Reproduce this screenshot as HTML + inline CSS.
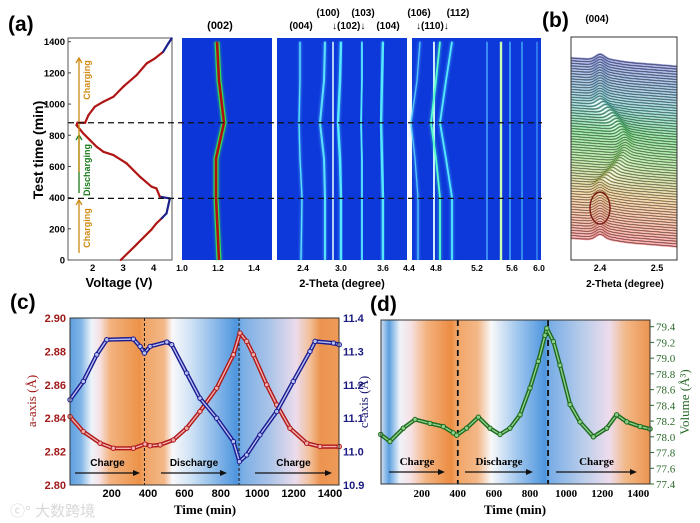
<!DOCTYPE html>
<html><head><meta charset="utf-8">
<style>
html,body{margin:0;padding:0;background:#fff;}
svg{display:block;}
.b{font-family:"Liberation Sans",Arial,sans-serif;font-weight:bold;}
.s{font-family:"Liberation Serif","Times New Roman",serif;font-weight:bold;}
</style></head>
<body>
<svg id="fig" width="700" height="523" viewBox="0 0 700 523" xmlns="http://www.w3.org/2000/svg">
<defs>
<linearGradient id="bgc" x1="0" x2="1" y1="0" y2="0">
<stop offset="0" stop-color="#5d9fdf"/><stop offset=".04" stop-color="#7fb4e6"/><stop offset=".08" stop-color="#eef3fa"/><stop offset=".11" stop-color="#f6e2e4"/><stop offset=".15" stop-color="#f3b27e"/><stop offset=".26" stop-color="#ec9248"/><stop offset=".275" stop-color="#f0a466"/><stop offset=".35" stop-color="#f3b888"/><stop offset=".38" stop-color="#f8f8fa"/><stop offset=".45" stop-color="#cfe2f5"/><stop offset=".62" stop-color="#4e95de"/><stop offset=".64" stop-color="#7aaee6"/><stop offset=".74" stop-color="#a9c3e8"/><stop offset=".84" stop-color="#ecdcec"/><stop offset=".89" stop-color="#f2c09c"/><stop offset=".93" stop-color="#ec9450"/><stop offset="1" stop-color="#ee9a58"/>
</linearGradient>
<linearGradient id="bgd" x1="0" x2="1" y1="0" y2="0">
<stop offset="0" stop-color="#cfe0f3"/><stop offset=".03" stop-color="#5d9fdf"/><stop offset=".07" stop-color="#eef3fa"/><stop offset=".11" stop-color="#f6e2e4"/><stop offset=".17" stop-color="#f3b27e"/><stop offset=".26" stop-color="#ec8c42"/><stop offset=".28" stop-color="#f0a466"/><stop offset=".36" stop-color="#f3b888"/><stop offset=".41" stop-color="#f8f8fa"/><stop offset=".5" stop-color="#a7cbef"/><stop offset=".61" stop-color="#4e95de"/><stop offset=".63" stop-color="#7aaee6"/><stop offset=".75" stop-color="#b9cdea"/><stop offset=".85" stop-color="#eedcec"/><stop offset=".91" stop-color="#f2b888"/><stop offset="1" stop-color="#ec9450"/>
</linearGradient>
<filter id="glow" x="-50%" y="-5%" width="200%" height="110%"><feGaussianBlur stdDeviation="1.2"/></filter>
<clipPath id="clipb"><rect x="571" y="37" width="106" height="223"/></clipPath>
</defs>

<text class="b" x="8" y="31" font-size="21">(a)</text>
<text class="b" x="542" y="27" font-size="21">(b)</text>
<text class="b" x="10" y="309" font-size="21">(c)</text>
<text class="b" x="370" y="311" font-size="21">(d)</text>

<g id="pa">
<rect x="68" y="38" width="104" height="222" fill="#fff" stroke="#555" stroke-width="1"/>
<text class="b" font-size="14" transform="translate(43,150) rotate(-90)" text-anchor="middle">Test time (min)</text>
<text class="b" font-size="13" x="119" y="287" text-anchor="middle">Voltage (V)</text>
</g>

<g id="hm">
<rect x="182" y="38" width="90" height="222" fill="#0d36d8"/>
<rect x="277" y="38" width="130" height="222" fill="#0d38da"/>
<rect x="412" y="38" width="129" height="222" fill="#0d38da"/>
<text class="b" font-size="11" x="220" y="29" text-anchor="middle">(002)</text>
<text class="b" font-size="10" x="301" y="29" text-anchor="middle">(004)</text>
<text class="b" font-size="10" x="328" y="16" text-anchor="middle">(100)</text>
<text class="b" font-size="10" x="363" y="16" text-anchor="middle">(103)</text>
<text class="b" font-size="10" x="388" y="29" text-anchor="middle">(104)</text>
<text class="b" font-size="10" x="419" y="16" text-anchor="middle">(106)</text>
<text class="b" font-size="10" x="458" y="16" text-anchor="middle">(112)</text>
<text class="b" font-size="10" x="332" y="29">↓(102)↓</text>
<text class="b" font-size="10" x="416" y="29">↓(110)↓</text>
<text class="b" font-size="11" x="342" y="287" text-anchor="middle">2-Theta (degree)</text>
</g>

<g id="pb">
<rect x="571" y="37" width="106" height="223" fill="#fff"/>
<text class="b" font-size="10" x="597" y="22" text-anchor="middle">(004)</text>
<text class="b" font-size="10" x="625" y="287" text-anchor="middle">2-Theta (degree)</text>
<g id="pbl" clip-path="url(#clipb)"></g>
</g>

<g id="pc">
<rect x="70" y="318" width="269" height="167" fill="url(#bgc)"/>
<text class="s" font-size="13" fill="#a01818" transform="translate(36,401) rotate(-90)" text-anchor="middle" style="font-weight:normal">a-axis (Å)</text>
<text class="s" font-size="13" x="205" y="514" text-anchor="middle">Time (min)</text>
</g>

<g id="pd">
<rect x="381" y="320" width="269" height="164" fill="url(#bgd)"/>
<text class="s" font-size="13" fill="#1a1a70" transform="translate(368,402) rotate(-90)" text-anchor="middle" style="font-weight:normal">c-axis (Å)</text>
<text class="s" font-size="13" fill="#2a6a2a" transform="translate(689,402) rotate(-90)" text-anchor="middle" style="font-weight:normal">Volume (Å³)</text>
<text class="s" font-size="13" x="515" y="514" text-anchor="middle">Time (min)</text>
</g>

<text x="10" y="516" font-size="15" fill="#d8d8d8" font-family="'Liberation Sans','Noto Sans CJK SC',sans-serif">ⓒ° 大数跨境</text>
</svg>

<script>
// panel a: voltage profile
const voltTime = [0,100,196,235,267,299,395,406,459,470,534,620,673,694,726,769,812,865,880,880,929,983,1015,1047,1111,1186,1261,1293,1335,1389,1421];
const voltValue = [2.92,3.44,3.93,4.09,4.26,4.42,4.53,4.2,4.09,3.93,3.55,3.11,2.68,2.35,2.13,1.91,1.69,1.47,1.5,1.75,1.86,2.07,2.35,2.68,3.0,3.44,3.77,4.04,4.31,4.48,4.59];
const voltTicks = [0,200,400,600,800,1000,1200,1400];
const voltXTicks = [2,3,4];
// panel c
const aTime = [-29,44,136,209,319,383,411,466,539,612,685,777,869,905,942,979,1052,1107,1180,1272,1345,1451];
const aValue = [2.841,2.832,2.825,2.822,2.822,2.8245,2.8235,2.824,2.827,2.834,2.844,2.858,2.878,2.891,2.886,2.878,2.86,2.848,2.834,2.825,2.823,2.823];
const cTime = [-29,44,118,173,319,356,380,411,503,530,612,685,777,869,902,942,1015,1107,1198,1290,1318,1419,1451];
const cValue = [11.155,11.21,11.29,11.335,11.337,11.315,11.295,11.315,11.328,11.32,11.235,11.16,11.10,11.03,10.97,10.99,11.05,11.12,11.21,11.30,11.33,11.325,11.32];
const aTicks = [2.80,2.82,2.84,2.86,2.88,2.90];
const cTicks = [10.9,11.0,11.1,11.2,11.3,11.4];
const timeTicks = [200,400,600,800,1000,1200,1400];
// panel d
const vTime = [-27,24,98,163,246,320,375,394,449,514,578,634,689,745,800,846,883,893,930,966,1022,1077,1151,1225,1280,1336,1410,1465];
const vValue = [78.03,77.94,78.11,78.22,78.17,78.13,78.05,78.02,78.11,78.25,78.11,78.03,78.11,78.28,78.62,78.96,79.29,79.38,79.21,78.91,78.41,78.19,78.0,78.11,78.28,78.19,78.13,78.1];
const volTicks = [77.4,77.6,77.8,78.0,78.2,78.4,78.6,78.8,79.0,79.2,79.4];
const switchTimes = [880,395];

const NS='http://www.w3.org/2000/svg';
const svg=document.getElementById('fig');
function mk(tag,attrs,parent){const e=document.createElementNS(NS,tag);for(const k in attrs)e.setAttribute(k,attrs[k]);(parent||svg).appendChild(e);return e;}
function txt(s,attrs,parent){const e=mk('text',attrs,parent);e.textContent=s;return e;}

// panel a
const vx=v=>92.7+(v-2)*30.5, ty=t=>260-t*0.15593;
const pa=document.getElementById('pa');
for(let i=1;i<voltTime.length;i++){
  const blue=voltValue[i]>4.15&&voltValue[i-1]>4.15;
  const seg=mk('line',{x1:vx(voltValue[i-1]),y1:ty(voltTime[i-1]),x2:vx(voltValue[i]),y2:ty(voltTime[i]),stroke:blue?'#1a1f8a':'#b01515','stroke-width':2.2,'stroke-linecap':'round'},pa);
  
  
}
voltTicks.forEach(t=>{
  const tk=mk('line',{x1:68,x2:71,y1:ty(t),y2:ty(t),stroke:'#444'},pa);
  
  
  const l=txt(String(t),{x:65,y:ty(t)+3.5,'font-size':9.5,'text-anchor':'end',class:'b'},pa);
  
  
});
voltXTicks.forEach(v=>{
  const l=txt(String(v),{x:vx(v),y:271,'font-size':9.5,'text-anchor':'middle',class:'b'},pa);
  
  
});
[[253,200,'#d08a10','Charging',228],[193,135,'#1a7a1a','Discharging',170],[172,58,'#d08a10','Charging',80]].forEach(a=>{
  const ar=mk('line',{x1:79,x2:79,y1:a[0],y2:a[1],stroke:a[2],'stroke-width':1.3},pa);
  
  
  const hd=mk('path',{d:`M76,${a[1]+5} L79,${a[1]} L82,${a[1]+5}`,fill:'none',stroke:a[2],'stroke-width':1.3},pa);
  
  
  const l=txt(a[3],{'font-size':9,fill:a[2],class:'b','text-anchor':'middle',transform:`translate(90,${a[4]}) rotate(-90)`},pa);
  
  
});

// heatmaps
const hm=document.getElementById('hm');
const hmT=[0,400,650,880,1150,1400];
const hmLines=[
 [[219,216,216,224,219,217],5,'#33dd55',2.6,'#b01010'],
 [[301,302,300,299,300,300],1.4,'#5ae0ff',0,null],
 [[325,325,324,320,324,325],2.0,'#5ae0ff',0,null],
 [[333,333,333,333,333,333],1.5,'#e8ffff',0,null],
 [[341,341,340,338,340,341],2.4,'#55e8ff',0,null],
 [[362,362,362,361,362,362],1.8,'#55e8ff',0,null],
 [[383,383,382,381,382,383],2.4,'#55e8ff',0,null],
 [[418,418,415,411,417,420],1.3,'#55c8ff',0,null],
 [[434,434,434,434,434,434],1.8,'#e8ffff',0,null],
 [[440,440,436,431,436,440],1.8,'#55ffcc',0,null],
 [[452,452,446,440,446,452],1.8,'#55e8ff',0,null],
 [[487,487,487,487,487,487],1.3,'#50b8ff',0,null],
 [[501,501,501,501,501,501],2.4,'#c8ffb0',0,null],
 [[510,510,510,510,510,510],1.3,'#50c0ff',0,null],
 [[522,522,522,522,522,522],1.2,'#50c0ff',0,null],
 [[537,537,537,537,537,537],1.1,'#4aa8ff',0,null]];
hmLines.forEach(L=>{
  const d=L[0].map((x,i)=>(i?'L':'M')+x+','+ty(hmT[i])).join(' ');
  const g=mk('path',{d:d,fill:'none',stroke:L[2],'stroke-width':L[1]+1.5,opacity:.45,filter:'url(#glow)'},hm);
  
  
  const p=mk('path',{d:d,fill:'none',stroke:L[2],'stroke-width':L[1]},hm);
  
  
  if(L[4]){const c=mk('path',{d:d,fill:'none',stroke:L[4],'stroke-width':L[3]},hm);
    
    }
});
[[182,'1.0'],[218,'1.2'],[254,'1.4'],[303,'2.4'],[341,'3.0'],[383,'3.6'],[409,'4.4'],[436,'4.8'],[477,'5.2'],[512,'5.6'],[539,'6.0']].forEach(k=>{
  const l=txt(k[1],{x:k[0],y:271,'font-size':8.5,'text-anchor':'middle',class:'b'},hm);
  
  
});
switchTimes.forEach(t=>{
  const l=mk('line',{x1:68,x2:542,y1:ty(t),y2:ty(t),stroke:'#111','stroke-width':1.3,'stroke-dasharray':'6,4'},svg);
  
  
});

// panel b waterfall
const pb=document.getElementById('pb');
const pbl=document.getElementById('pbl');
const nW=70;
function wColor(f){
  const st=[[0,[230,90,90]],[.25,[220,170,90]],[.45,[120,200,90]],[.6,[60,190,80]],[.75,[70,170,170]],[1,[80,90,190]]];
  for(let i=1;i<st.length;i++)if(f<=st[i][0]){const a=st[i-1],b=st[i],u=(f-a[0])/(b[0]-a[0]);return 'rgb('+a[1].map((c,j)=>Math.round(c+(b[1][j]-c)*u)).join(',')+')';}
  return 'rgb(80,90,190)';
}
for(let i=0;i<nW;i++){
  const f=i/(nW-1), base=238-f*180;
  let pk=600; if(f>0.3&&f<0.85){const u=(f-0.3)/0.55;pk=600+25*Math.sin(Math.PI*Math.min(1,u*1.2));}
  let d='';
  for(let x=571;x<=677;x+=2){const y=base+(x-571)*0.08-5*Math.exp(-Math.pow((x-pk)/6,2))-1.5*Math.exp(-Math.pow((x-pk-8)/14,2));d+=(d?'L':'M')+x+','+y.toFixed(1)+' ';}
  const c=mk('path',{d:d,fill:'none',stroke:wColor(f),'stroke-width':2.2,opacity:.7},pbl);
  
  
  const p=mk('path',{d:d,fill:'none',stroke:'#222','stroke-width':.45},pbl);
  
  
}
const el=mk('ellipse',{cx:600,cy:208,rx:10,ry:16,fill:'none',stroke:'#7a1a10','stroke-width':1.4},pb);


const bf=mk('rect',{x:571,y:37,width:106,height:223,fill:'none',stroke:'#333'},pb);


[[600,'2.4'],[657,'2.5']].forEach(k=>{
  const l=txt(k[1],{x:k[0],y:271,'font-size':9,'text-anchor':'middle',class:'b'},pb);
  
  
});

// panel c
const pc=document.getElementById('pc');
const cxs=t=>111.7+(t-200)*0.1819, ays=a=>318+(2.90-a)*1670, cys=c=>318+(11.4-c)*334;
function series(par,xs,ys,xf,yf,dark,light,name){
  const d=xs.map((t,i)=>(i?'L':'M')+xf(t).toFixed(1)+','+yf(ys[i]).toFixed(1)).join(' ');
  const a=mk('path',{d:d,fill:'none',stroke:dark,'stroke-width':4.2,'stroke-linejoin':'round'},par);
  
  
  const b=mk('path',{d:d,fill:'none',stroke:light,'stroke-width':1.4,'stroke-linejoin':'round'},par);
  
  
  xs.forEach((t,i)=>{const m=mk('circle',{cx:xf(t),cy:yf(ys[i]),r:2.2,fill:light,stroke:dark,'stroke-width':1},par);
    
    });
}
[380,900].forEach(t=>{const l=mk('line',{x1:cxs(t),x2:cxs(t),y1:318,y2:485,stroke:'#111','stroke-width':1,'stroke-dasharray':'3,2'},pc);
  
  });
series(pc,aTime,aValue,cxs,ays,'#b01818','#f0b0b0','a-axis-series');
series(pc,cTime,cValue,cxs,cys,'#1a1a90','#b8c0f0','c-axis-series-c');
[[75,140,'Charge'],[161,227,'Discharge'],[255,332,'Charge']].forEach(a=>{
  const l=mk('line',{x1:a[0],x2:a[1]-5,y1:473,y2:473,stroke:'#111','stroke-width':1.3},pc);
  
  
  const h=mk('path',{d:`M${a[1]-7},470 L${a[1]},473 L${a[1]-7},476 Z`,fill:'#111'},pc);
  
  
  const t=txt(a[2],{x:(a[0]+a[1])/2,y:466,'font-size':10,'text-anchor':'middle',class:'b'},pc);
  
  
});
const fc=mk('rect',{x:70,y:318,width:269,height:167,fill:'none',stroke:'#333'},pc);


aTicks.forEach(a=>{const l=txt(a.toFixed(2),{x:66,y:ays(a)+4,'font-size':11,'text-anchor':'end',fill:'#a01818',class:'b'},pc);
  
  });
cTicks.forEach(c=>{const l=txt(c.toFixed(1),{x:343,y:cys(c)+4,'font-size':11,fill:'#1a1a80',class:'b'},pc);
  
  });
timeTicks.forEach(t=>{const l=txt(String(t),{x:cxs(t),y:497,'font-size':11,'text-anchor':'middle',class:'b'},pc);
  
  });

// panel d
const pd=document.getElementById('pd');
const dxs=t=>421.7+(t-200)*0.1805, vys=v=>326.7+(79.4-v)*78.65;
[400,900].forEach(t=>{const l=mk('line',{x1:dxs(t),x2:dxs(t),y1:320,y2:484,stroke:'#111','stroke-width':1.8,'stroke-dasharray':'6,4'},pd);
  
  });
series(pd,vTime,vValue,dxs,vys,'#1e6a1e','#8cd08c','volume-series');
[[389,445,'Charge'],[465,533,'Discharge'],[556,637,'Charge']].forEach(a=>{
  const l=mk('line',{x1:a[0],x2:a[1]-5,y1:472,y2:472,stroke:'#111','stroke-width':1.3},pd);
  
  
  const h=mk('path',{d:`M${a[1]-7},469 L${a[1]},472 L${a[1]-7},475 Z`,fill:'#111'},pd);
  
  
  const t=txt(a[2],{x:(a[0]+a[1])/2,y:465,'font-size':11,'text-anchor':'middle',class:'s'},pd);
  
  
});
const fd=mk('rect',{x:381,y:320,width:269,height:164,fill:'none',stroke:'#333'},pd);


volTicks.forEach(v=>{
  const k=mk('line',{x1:650,x2:654,y1:vys(v),y2:vys(v),stroke:'#2a6a2a'},pd);
  
  
  const l=txt(v.toFixed(1),{x:656,y:vys(v)+4,'font-size':11,fill:'#2a6a2a',class:'s',style:'font-weight:normal'},pd);
  
  });
timeTicks.forEach(t=>{const l=txt(String(t),{x:dxs(t),y:497,'font-size':11,'text-anchor':'middle',class:'s'},pd);
  
  });
</script>
</body></html>
